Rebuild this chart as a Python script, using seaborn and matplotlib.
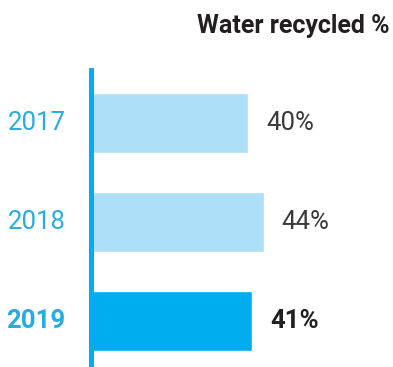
import matplotlib
matplotlib.use('Agg')

import matplotlib.pyplot as plt
import seaborn as sns
import pandas as pd

sns.set_style("white")
plt.rcParams['font.family'] = ['Roboto', 'DejaVu Sans']

# Data
years = ["2017", "2018", "2019"]
recycled = [40, 44, 41]
value_labels = ["40%", "44%", "41%"]
title = "Water recycled %"

df = pd.DataFrame({"Year": years, "Recycled": recycled})

BLUE = "#00aeef"
LIGHT = "#addff8"
YEAR_COLOR = "#29abe2"

fig = plt.figure(figsize=(3.93, 3.67), dpi=100)
ax = fig.add_axes([91 / 393, 0, 302 / 393, 297 / 367])

sns.barplot(data=df, x="Recycled", y="Year", orient="h",
            palette=[LIGHT, LIGHT, BLUE], hue="Year", legend=False,
            width=0.606, saturation=1, ax=ax)

ax.set_xlim(0, 76.8)
ax.set_ylim(2.465, -0.535)

for side in ["top", "right", "bottom"]:
    ax.spines[side].set_visible(False)
ax.spines["left"].set_color(BLUE)
ax.spines["left"].set_linewidth(3.6)
ax.set_xticks([])
ax.set_yticks([])
ax.set_xlabel("")
ax.set_ylabel("")

for i, (yr, val, lab) in enumerate(zip(years, recycled, value_labels)):
    last = i == len(years) - 1
    ax.text(-6.4, i, yr, ha="right", va="center", fontsize=18.5,
            color=YEAR_COLOR, fontweight="bold" if last else "normal",
            clip_on=False)
    ax.text(val + 4.5, i, lab, ha="left", va="center", fontsize=18.5,
            color="#231f20" if last else "#3a3a3a",
            fontweight="bold" if last else "normal", clip_on=False)

fig.text(390 / 393, 1 - 33 / 367, title, ha="right", va="baseline",
         fontsize=18, fontweight="bold", color="#231f20")

fig.savefig("out.png", dpi=100, facecolor="white")
